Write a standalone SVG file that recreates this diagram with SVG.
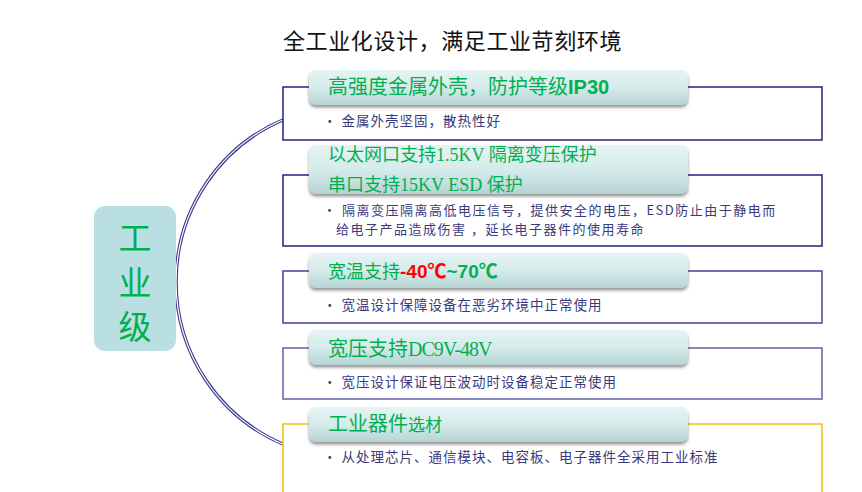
<svg xmlns="http://www.w3.org/2000/svg" width="862" height="492" viewBox="0 0 862 492">
<defs>
<linearGradient id="hg" x1="0" y1="0" x2="0" y2="1">
<stop offset="0" stop-color="#e6f3f3"/>
<stop offset="0.5" stop-color="#d6ebeb"/>
<stop offset="1" stop-color="#b6d4d4"/>
</linearGradient>
<filter id="sh" x="-5%" y="-20%" width="110%" height="150%">
<feDropShadow dx="0" dy="2.5" stdDeviation="1.5" flood-color="#404040" flood-opacity="0.55"/>
</filter>
</defs>
<style>
.box{fill:#ffffff;stroke-width:1.6}
.hdr{fill:url(#hg);filter:url(#sh)}
.ht{fill:#00b050;font-family:"Noto Sans CJK SC",sans-serif}
.hs{fill:#00b050;font-family:"Liberation Serif","Noto Sans CJK SC",serif}
.bt{fill:#3a3a7c;font-family:"Noto Sans CJK SC",sans-serif;font-size:13.5px;letter-spacing:1px}
.bt2{font-size:13px;letter-spacing:1.5px}
.title{fill:#111111;font-family:"Noto Sans CJK SC",sans-serif;font-size:22px;letter-spacing:0.6px}
</style>
<rect width="862" height="492" fill="#ffffff"/>
<text class="title" x="283" y="49">全工业化设计，满足工业苛刻环境</text>

<g id="connectors">
<path d="M285,119 A176.4,176.4 0 0 0 285,445" fill="none" stroke="#3b3b8f" stroke-width="3.4"/>
<path d="M285,119 A176.4,176.4 0 0 0 285,445" fill="none" stroke="#ffffff" stroke-width="1.2"/>
</g>

<g id="node-root">
<rect x="94" y="206" width="82" height="145" rx="11" fill="#b9dfe3"/>
<text x="135" y="250" text-anchor="middle" fill="#00b050" font-family="Noto Sans CJK SC, sans-serif" font-size="33">工</text>
<text x="135" y="295" text-anchor="middle" fill="#00b050" font-family="Noto Sans CJK SC, sans-serif" font-size="33">业</text>
<text x="135" y="339" text-anchor="middle" fill="#00b050" font-family="Noto Sans CJK SC, sans-serif" font-size="33">级</text>
</g>

<g id="node-1">
<rect class="box" x="283" y="87" width="539" height="53" stroke="#2f2f88"/>
<rect class="hdr" x="309" y="70" width="379" height="35" rx="7"/>
<text class="ht" x="328" y="94" font-size="20">高强度金属外壳，防护等级<tspan font-family="Liberation Sans, sans-serif" font-weight="bold">IP30</tspan></text>
<text class="bt" x="323" y="126">• 金属外壳坚固，散热性好</text>
</g>

<g id="node-2">
<rect class="box" x="283" y="175" width="539" height="71" stroke="#2f2f88"/>
<rect class="hdr" x="309" y="145" width="379" height="49" rx="7"/>
<text class="hs" x="328" y="161" font-size="18">以太网口支持1.5KV 隔离变压保护</text>
<text class="hs" x="328" y="191" font-size="18">串口支持15KV ESD 保护</text>
<text class="bt bt2" x="323" y="215">• 隔离变压隔离高低电压信号，提供安全的电压，ESD防止由于静电而</text>
<text class="bt bt2" x="336" y="234">给电子产品造成伤害 ，延长电子器件的使用寿命</text>
</g>

<g id="node-3">
<rect class="box" x="283" y="271" width="539" height="52" stroke="#4e4e9a"/>
<rect class="hdr" x="309" y="253" width="379" height="35" rx="7"/>
<text class="ht" x="328" y="278" font-size="18">宽温支持<tspan font-family="Liberation Sans, Noto Sans CJK SC, sans-serif" font-weight="bold" font-size="19" fill="#ff0000">-40℃</tspan><tspan font-family="Liberation Sans, Noto Sans CJK SC, sans-serif" font-weight="bold" font-size="19">~70℃</tspan></text>
<text class="bt" x="323" y="310">• 宽温设计保障设备在恶劣环境中正常使用</text>
</g>

<g id="node-4">
<rect class="box" x="283" y="348" width="539" height="51" stroke="#6a6aae"/>
<rect class="hdr" x="309" y="330" width="379" height="35" rx="7"/>
<text class="hs" x="328" y="356" font-size="20">宽压支持<tspan letter-spacing="-1">DC9V-48V</tspan></text>
<text class="bt" x="323" y="387">• 宽压设计保证电压波动时设备稳定正常使用</text>
</g>

<g id="node-5">
<rect class="box" x="283" y="424" width="539" height="80" stroke="#f2c21b" fill="#fdfdfd"/>
<rect class="hdr" x="309" y="407" width="379" height="35" rx="7"/>
<text class="ht" x="328" y="431" font-size="20">工业器件<tspan font-size="17">选材</tspan></text>
<text class="bt" x="323" y="462">• 从处理芯片、通信模块、电容板、电子器件全采用工业标准</text>
</g>
</svg>
